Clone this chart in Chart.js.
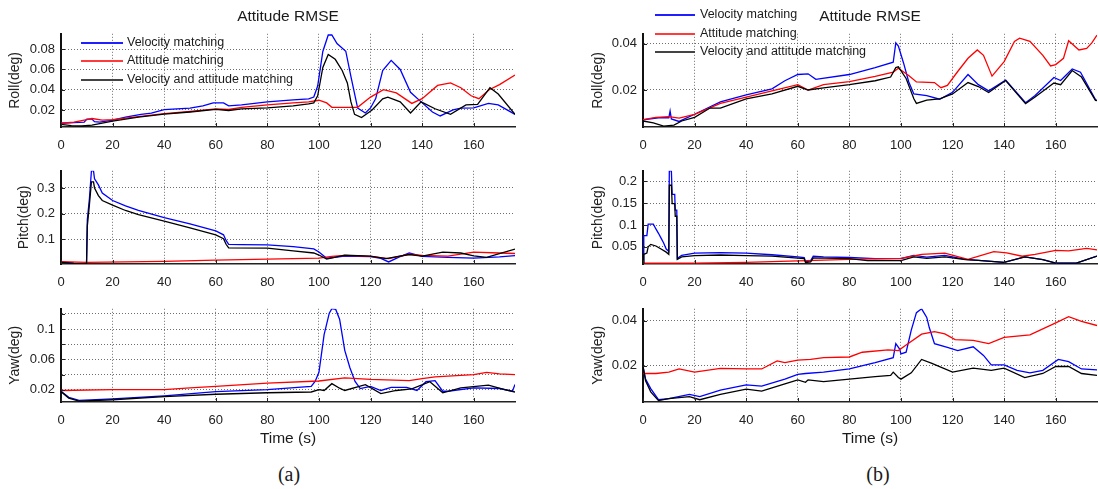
<!DOCTYPE html>
<html>
<head>
<meta charset="utf-8">
<script src="https://cdn.jsdelivr.net/npm/chart.js@4.4.1/dist/chart.umd.min.js"></script>
<style>
  body { margin: 0; width: 1098px; height: 489px; background: #fff; position: relative; overflow: hidden;
         font-family: "Liberation Sans", Arial, sans-serif; color: #1a1a1a; }
  canvas { position: absolute; }
  .txt { position: absolute; white-space: nowrap; transform: translate(-50%, -50%); }
  .cap { font-family: "Liberation Serif", "Times New Roman", serif; font-size: 20px; }
  .lgline { position: absolute; height: 2px; }
  .lgtext { position: absolute; white-space: nowrap; font-size: 12.5px; line-height: 15px; }
</style>
</head>
<body>
<script>
// ---- data (time in s, RMSE in deg) ----
const timeMax = 176;
const seriesNames = ['Velocity matching', 'Attitude matching', 'Velocity and attitude matching'];
const seriesColors = ['#0000ff', '#ff0000', '#000000'];
const legendColors = ['#1f1fff', '#ff3b3b', '#444444'];

// (a) roll
const rollA_vel = [[0,0.0069],[5,0.0075],[9,0.008],[10,0.011],[12,0.011],[13,0.0085],[15,0.008],[20,0.010],[25,0.013],[31,0.0157],[35,0.017],[40,0.0203],[45,0.021],[50,0.0219],[55,0.024],[59,0.027],[63,0.027],[65,0.024],[70,0.025],[80,0.028],[90,0.030],[96,0.031],[98,0.0328],[99.5,0.0436],[101.5,0.0778],[103.6,0.094],[105,0.094],[107,0.0856],[110.4,0.078],[112.4,0.053],[115,0.0219],[118,0.017],[120,0.022],[122,0.0312],[124.7,0.059],[128,0.069],[131.5,0.060],[135.5,0.0374],[139.6,0.028],[144,0.018],[147,0.0141],[152,0.020],[155,0.0219],[160,0.022],[165.7,0.0265],[169.5,0.025],[176,0.0157]];
const rollA_att = [[0,0.0069],[5,0.008],[10,0.0105],[12,0.0116],[16,0.0100],[20,0.0105],[30,0.0135],[40,0.0165],[50,0.0185],[60,0.021],[65,0.0205],[70,0.0225],[80,0.025],[90,0.027],[96,0.028],[100,0.0296],[103,0.027],[105,0.0226],[110,0.0225],[115,0.0226],[120,0.0327],[125,0.040],[130,0.0368],[136,0.0265],[140,0.0312],[146,0.0442],[151,0.0467],[155,0.042],[159,0.034],[162,0.0312],[166,0.040],[170,0.045],[176,0.0545]];
const rollA_both = [[0,0.0057],[4,0.0045],[8,0.0042],[12,0.005],[20,0.009],[30,0.013],[40,0.016],[50,0.018],[60,0.0205],[65,0.0195],[70,0.021],[80,0.022],[90,0.024],[96,0.026],[98,0.027],[99.5,0.034],[101.5,0.062],[103.6,0.0747],[106.3,0.070],[109,0.059],[111,0.0467],[112.4,0.028],[113.8,0.0157],[116.5,0.0125],[120.6,0.020],[124.7,0.031],[126.7,0.0327],[131.5,0.028],[135.5,0.017],[139.6,0.028],[145,0.0212],[151,0.0157],[157,0.025],[161.5,0.0256],[166.3,0.042],[169.5,0.0358],[176,0.0157]];

// (a) pitch
const pitchA_vel = [[0,0.011],[5,0.006],[9.9,0.005],[10.2,0.176],[11,0.257],[11.8,0.367],[12.6,0.367],[13,0.336],[14.5,0.312],[16,0.28],[20,0.251],[25,0.23],[30,0.212],[40,0.184],[50,0.16],[60,0.132],[63,0.117],[64,0.095],[65,0.08],[70,0.079],[80,0.078],[90,0.071],[98,0.062],[100,0.05],[103,0.0256],[110,0.034],[120,0.032],[124,0.025],[127,0.011],[131,0.03],[135,0.046],[140,0.033],[150,0.029],[160,0.026],[170,0.031],[176,0.036]];
const pitchA_att = [[0,0.012],[10,0.009],[40,0.013],[60,0.018],[80,0.022],[100,0.026],[105,0.033],[110,0.037],[120,0.033],[127,0.024],[135,0.041],[140,0.037],[150,0.034],[160,0.049],[170,0.046],[176,0.044]];
const pitchA_both = [[0,0.009],[5,0.005],[9.9,0.004],[10.2,0.151],[11,0.233],[11.8,0.324],[12.6,0.324],[13,0.30],[14.5,0.27],[16,0.251],[20,0.233],[25,0.212],[30,0.196],[40,0.17],[50,0.144],[60,0.117],[63,0.102],[64,0.08],[65,0.066],[80,0.065],[90,0.054],[98,0.046],[100,0.038],[103,0.022],[110,0.038],[120,0.034],[126,0.024],[135,0.04],[140,0.034],[148,0.049],[155,0.046],[160,0.035],[165,0.029],[176,0.061]];

// (a) yaw
const yawA_vel = [[0,0.018],[3,0.010],[7,0.006],[20,0.008],[40,0.012],[60,0.0175],[80,0.020],[97,0.0245],[98.5,0.031],[100,0.043],[102,0.0926],[104,0.121],[105,0.127],[106.5,0.126],[108,0.113],[110,0.072],[112,0.049],[114,0.031],[116,0.0216],[120,0.0245],[124,0.019],[128,0.023],[134,0.023],[138,0.019],[141.5,0.0306],[145,0.032],[148,0.018],[150,0.018],[160,0.0225],[170,0.0216],[175,0.018],[176,0.027]];
const yawA_att = [[0,0.019],[20,0.020],[40,0.020],[50,0.0225],[60,0.0245],[80,0.0287],[100,0.0315],[110,0.0357],[120,0.0336],[135,0.032],[140,0.0347],[145,0.037],[160,0.0398],[165,0.043],[170,0.041],[176,0.040]];
const yawA_both = [[0,0.0175],[3,0.009],[7,0.005],[20,0.0068],[40,0.011],[60,0.014],[80,0.016],[97,0.017],[100,0.020],[102,0.019],[105,0.028],[108,0.022],[110,0.019],[118,0.0266],[124,0.015],[130,0.019],[136,0.021],[143,0.0305],[148,0.016],[155,0.0225],[165.7,0.026],[172,0.020],[176,0.017]];

// (b) roll
const rollB_vel = [[0,0.0071],[6,0.008],[10,0.008],[10.5,0.0109],[11,0.0075],[14,0.0064],[20,0.0095],[30,0.0149],[40,0.0179],[50,0.0205],[55,0.024],[60,0.0267],[64,0.027],[67,0.0246],[80,0.0267],[90,0.0297],[97,0.032],[98,0.0404],[99,0.039],[101,0.0317],[103,0.0236],[105,0.0183],[110,0.0176],[115,0.016],[120,0.019],[126,0.0267],[130,0.0223],[134,0.0196],[140.6,0.0243],[148.3,0.0145],[152,0.0176],[159.3,0.0254],[161.9,0.0241],[166.4,0.0291],[169.6,0.0277],[175.4,0.0159],[176,0.0155]];
const rollB_att = [[0,0.0072],[5,0.0082],[10,0.0085],[14,0.0078],[20,0.0095],[30,0.0142],[40,0.0169],[50,0.0196],[60,0.0223],[64,0.020],[70,0.0223],[80,0.0236],[90,0.0259],[97,0.0277],[99,0.0294],[103,0.0263],[106,0.0235],[113,0.0232],[115.5,0.021],[118,0.022],[122,0.028],[126,0.0337],[129.6,0.0373],[132,0.035],[135.3,0.026],[140,0.0323],[144,0.041],[146,0.0424],[150,0.041],[155,0.035],[158,0.0304],[160,0.031],[163,0.0337],[165,0.0413],[169,0.0373],[172,0.038],[174,0.0404],[176,0.0437]];
const rollB_both = [[0,0.0066],[4,0.0058],[8,0.0044],[12,0.0048],[15,0.0066],[20,0.0082],[26,0.0122],[30,0.0122],[40,0.0162],[50,0.0183],[60,0.0216],[64,0.020],[70,0.0209],[80,0.0223],[90,0.024],[96,0.0256],[98,0.0297],[99,0.030],[102,0.025],[105,0.0162],[106,0.0142],[110,0.0156],[115,0.0162],[120,0.0183],[126,0.0232],[130,0.0215],[134,0.0189],[140.6,0.0241],[148.3,0.0141],[152,0.017],[159.3,0.023],[161.9,0.0223],[166.4,0.0284],[170,0.0256],[175.4,0.0155],[176,0.0154]];

// (b) pitch
const pitchB_vel = [[0,0.013],[0.3,0.0757],[1.5,0.0757],[2,0.102],[4,0.102],[5,0.091],[6,0.081],[7,0.07],[8,0.059],[9,0.045],[10,0.04],[10.2,0.2236],[11,0.2236],[11.3,0.17],[12.3,0.17],[12.5,0.134],[13.1,0.134],[13.3,0.0236],[15,0.0307],[20,0.0357],[30,0.037],[40,0.0357],[50,0.032],[60,0.0271],[62.5,0.0257],[63,0.016],[65,0.0186],[66,0.0286],[70,0.0271],[80,0.0257],[90,0.0229],[100,0.0229],[105,0.0307],[110,0.0264],[117,0.0307],[125,0.0214],[130,0.019],[140,0.0145],[148,0.027],[155,0.021],[160,0.013],[168,0.013],[176,0.029]];
const pitchB_att = [[0,0.013],[20,0.013],[40,0.0143],[60,0.018],[80,0.0214],[100,0.0236],[108,0.0329],[117,0.0357],[126,0.0214],[136,0.0393],[141,0.0364],[147,0.0286],[152,0.0329],[160,0.042],[165,0.041],[172,0.0464],[176,0.0429]];
const pitchB_both = [[0,0.013],[0.3,0.033],[1.5,0.036],[2,0.05],[3,0.0557],[5,0.052],[7,0.045],[9,0.0379],[10,0.033],[10.2,0.191],[11,0.191],[11.3,0.149],[12.3,0.149],[12.5,0.12],[13.1,0.12],[13.3,0.0214],[15,0.027],[20,0.030],[30,0.0314],[40,0.030],[50,0.0286],[60,0.0243],[62.5,0.023],[63,0.0143],[65,0.0157],[66,0.025],[80,0.0229],[87,0.0186],[100,0.0186],[105,0.0271],[110,0.0236],[117,0.0271],[125,0.0207],[130,0.019],[140,0.0145],[148,0.027],[155,0.021],[160,0.0126],[168,0.0126],[176,0.029]];

// (b) yaw
const yawB_vel = [[0,0.0197],[1,0.0141],[3,0.0099],[6,0.005],[10,0.0055],[18,0.0074],[22,0.0064],[30,0.0092],[40,0.0116],[46,0.011],[55,0.0141],[60,0.0162],[63,0.0166],[70,0.0172],[80,0.0186],[90,0.0214],[97,0.0236],[98,0.0298],[99.5,0.0274],[100,0.0253],[102,0.026],[104,0.0358],[106,0.0435],[108,0.0452],[110,0.0414],[111,0.0368],[113,0.0298],[118,0.0281],[122,0.0267],[128,0.0284],[132,0.0246],[135,0.0204],[140,0.0204],[145,0.018],[150,0.0169],[155,0.018],[161,0.0228],[165,0.0218],[170,0.0186],[176,0.0182]];
const yawB_att = [[0,0.0166],[5,0.0166],[10,0.0172],[14,0.0186],[20,0.0172],[30,0.0189],[40,0.0186],[46,0.0186],[52,0.0222],[55,0.0214],[60,0.0225],[65,0.0228],[70,0.0236],[80,0.0239],[85,0.026],[95,0.027],[99,0.0267],[102,0.0292],[108,0.034],[113,0.0351],[117,0.0341],[121,0.0316],[128,0.0312],[134,0.0298],[140,0.0326],[150,0.0337],[160,0.039],[165,0.0417],[170,0.0396],[176,0.0378]];
const yawB_both = [[0,0.0197],[1,0.0134],[3,0.0085],[6,0.0046],[10,0.0055],[18,0.0064],[22,0.005],[30,0.0074],[40,0.0097],[46,0.0088],[55,0.012],[60,0.0138],[63,0.0127],[64,0.0138],[70,0.013],[80,0.0141],[90,0.0152],[96,0.0158],[97,0.0172],[99,0.0148],[100,0.0141],[104,0.0169],[108,0.0228],[112,0.0211],[120,0.0172],[128,0.019],[135,0.018],[140,0.019],[148,0.0148],[155,0.0166],[160,0.0197],[165,0.0197],[170,0.0166],[176,0.0158]];

// tick labels shown on the (a) yaw axis (grid lines every 0.02)
const yawATickLabels = [0.02, 0.06, 0.1];

// ---- layout ----
Chart.defaults.font.family = '"Liberation Sans", Arial, sans-serif';

const innerTicks = {
  id: 'innerTicks',
  afterDatasetsDraw(chart) {
    const {ctx, chartArea: a, scales: {x, y}} = chart;
    ctx.save();
    ctx.strokeStyle = '#222';
    ctx.lineWidth = 1;
    ctx.beginPath();
    x.ticks.forEach((t, i) => {
      const px = Math.round(x.getPixelForTick(i)) + 0.5;
      ctx.moveTo(px, a.bottom); ctx.lineTo(px, a.bottom - 4);
    });
    y.ticks.forEach((t, i) => {
      const py = Math.round(y.getPixelForTick(i)) + 0.5;
      ctx.moveTo(a.left, py); ctx.lineTo(a.left + 4, py);
    });
    ctx.stroke();
    ctx.restore();
  }
};

const fmt = v => String(+v.toFixed(3));
const gridColor = 'rgba(60,60,60,0.75)';

const panels = [
  {left: 0,   top: 20,  w: 525, padR: 10, series: [rollA_vel, rollA_att, rollA_both],    title: 'Roll(deg)',  min: 0.0032, max: 0.0952, step: 0.02, tp: 7},
  {left: 0,   top: 157, w: 525, padR: 10, series: [pitchA_vel, pitchA_att, pitchA_both], title: 'Pitch(deg)', min: 0.003,  max: 0.367,  step: 0.1,  tp: 16},
  {left: 0,   top: 295, w: 525, padR: 10, series: [yawA_vel, yawA_att, yawA_both],       title: 'Yaw(deg)',   min: 0.0038, max: 0.1268, step: 0.02, tp: 7, labels: yawATickLabels},
  {left: 582, top: 20,  w: 516, padR: 1,  series: [rollB_vel, rollB_att, rollB_both],    title: 'Roll(deg)',  min: 0.0040, max: 0.0443, step: 0.02, tp: 8},
  {left: 582, top: 157, w: 516, padR: 1,  series: [pitchB_vel, pitchB_att, pitchB_both], title: 'Pitch(deg)', min: 0.0108, max: 0.2240, step: 0.05, tp: 8},
  {left: 582, top: 295, w: 516, padR: 1,  series: [yawB_vel, yawB_att, yawB_both],       title: 'Yaw(deg)',   min: 0.0040, max: 0.0452, step: 0.02, tp: 8}
];

panels.forEach(p => {
  const cv = document.createElement('canvas');
  cv.width = p.w;
  cv.height = 137;
  cv.style.left = p.left + 'px';
  cv.style.top = p.top + 'px';
  document.body.appendChild(cv);

  new Chart(cv, {
    type: 'line',
    data: {
      datasets: p.series.map((s, i) => ({
        label: seriesNames[i],
        data: s.map(d => ({x: d[0], y: d[1]})),
        borderColor: seriesColors[i],
        borderWidth: 1.3,
        pointRadius: 0,
        tension: 0,
        order: 2 - i
      }))
    },
    options: {
      responsive: false,
      animation: false,
      events: [],
      layout: {padding: {top: 8, right: p.padR, left: 0, bottom: 0}},
      plugins: {legend: {display: false}, tooltip: {enabled: false}},
      scales: {
        x: {
          type: 'linear', min: 0, max: timeMax,
          afterFit: s => { s.height = 30; },
          ticks: {stepSize: 20, includeBounds: false, padding: 11, color: '#222', font: {size: 13}, maxRotation: 0, autoSkip: false},
          grid: {color: gridColor, drawTicks: false},
          border: {color: '#222', width: 1.5, dash: [1, 2]}
        },
        y: {
          type: 'linear', min: p.min, max: p.max,
          afterFit: s => { s.width = 61; },
          ticks: {
            stepSize: p.step, includeBounds: false, padding: 6, color: '#222', font: {size: 13},
            callback: v => (!p.labels || p.labels.some(l => Math.abs(l - v) < 1e-9)) ? fmt(v) : ''
          },
          grid: {color: gridColor, drawTicks: false},
          border: {color: '#111', width: 2, dash: [1, 2]},
          title: {display: true, text: p.title, color: '#222', font: {size: 14}, padding: {top: p.tp, bottom: 0}}
        }
      }
    },
    plugins: [innerTicks]
  });
});

// ---- text: titles, axis labels, captions ----
function addText(text, x, y, cls, size) {
  const d = document.createElement('div');
  d.className = 'txt ' + (cls || '');
  d.textContent = text;
  d.style.left = x + 'px';
  d.style.top = y + 'px';
  if (size) d.style.fontSize = size + 'px';
  document.body.appendChild(d);
}
addText('Attitude RMSE', 288, 16, '', 15.5);
addText('Attitude RMSE', 870, 16, '', 15.5);
addText('Time (s)', 288, 438, '', 15.5);
addText('Time (s)', 870, 438, '', 15.5);
addText('(a)', 289, 474, 'cap');
addText('(b)', 878, 474, 'cap');

// ---- legends ----
function addLegend(x1, x2, tx, rows) {
  seriesNames.forEach((name, i) => {
    const ln = document.createElement('div');
    ln.className = 'lgline';
    ln.style.left = x1 + 'px';
    ln.style.width = (x2 - x1) + 'px';
    ln.style.top = (rows[i] - 1) + 'px';
    ln.style.background = legendColors[i];
    document.body.appendChild(ln);
    const t = document.createElement('div');
    t.className = 'lgtext';
    t.textContent = name;
    t.style.left = tx + 'px';
    t.style.top = (rows[i] - 8) + 'px';
    document.body.appendChild(t);
  });
}
addLegend(81, 123, 127, [43, 61, 80]);
addLegend(655, 695, 700, [15, 34, 52]);
</script>
</body>
</html>
